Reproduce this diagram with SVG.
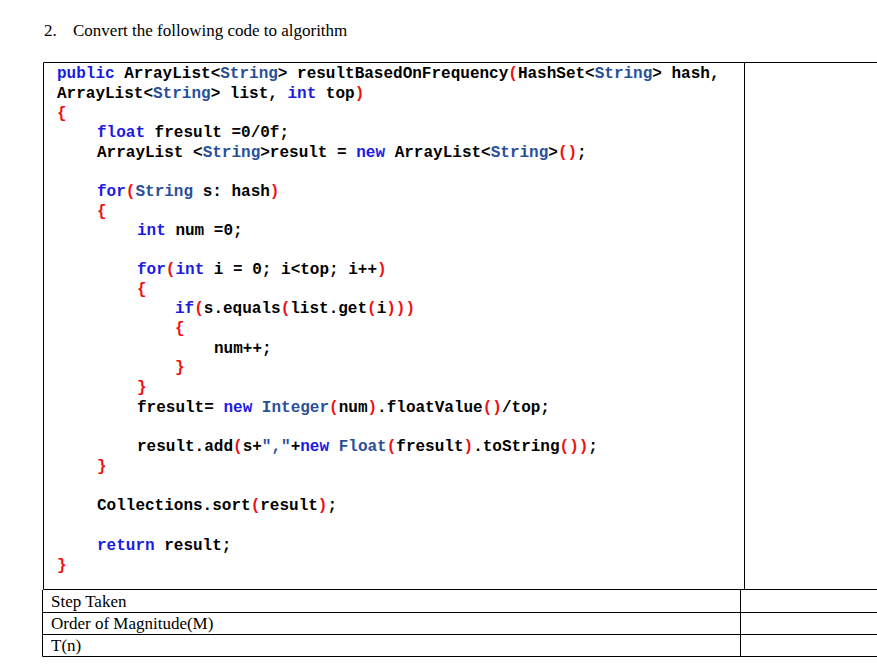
<svg xmlns="http://www.w3.org/2000/svg" width="877" height="671" viewBox="0 0 877 671">
<style>
.c{font-family:"Liberation Mono",monospace;font-size:16px;font-weight:bold;fill:#000;white-space:pre}
.k{fill:#1a1ae6}.t{fill:#2a4f9a}.p{fill:#ee1111}
.s{font-family:"Liberation Serif",serif;font-size:17px;fill:#000}
.l{stroke:#000;stroke-width:1;fill:none}
</style>
<rect width="877" height="671" fill="#fff"/>
<text class="s" x="44" y="36">2.</text>
<text class="s" x="73" y="36">Convert the following code to algorithm</text>
<g id="table">
<path class="l" d="M43.5 62.5H877M43.5 62.5V589.5M744.5 62.5V589.5M43.5 589.5H877M42.5 590V656.5H877M740.5 590V656.5M42.5 612.5H877M42.5 634.5H877"/>
<text class="s" x="51" y="607">Step Taken</text>
<text class="s" x="51" y="629">Order of Magnitude(M)</text>
<text class="s" x="51" y="651">T(n)</text>
</g>
<g id="code" class="c" xml:space="preserve">
<text x="57" y="78"><tspan class="k">public</tspan> ArrayList&lt;<tspan class="t">String</tspan>&gt; resultBasedOnFrequency<tspan class="p">(</tspan>HashSet&lt;<tspan class="t">String</tspan>&gt; hash,</text>
<text x="57" y="98">ArrayList&lt;<tspan class="t">String</tspan>&gt; list, <tspan class="k">int</tspan> top<tspan class="p">)</tspan></text>
<text x="57" y="118" class="p">{</text>
<text x="97" y="137"><tspan class="k">float</tspan> fresult =0/0f;</text>
<text x="97" y="157">ArrayList &lt;<tspan class="t">String</tspan>&gt;result = <tspan class="k">new</tspan> ArrayList&lt;<tspan class="t">String</tspan>&gt;<tspan class="p">()</tspan>;</text>
<text x="97" y="196"><tspan class="k">for</tspan><tspan class="p">(</tspan><tspan class="t">String</tspan> s: hash<tspan class="p">)</tspan></text>
<text x="97" y="216" class="p">{</text>
<text x="137" y="235"><tspan class="k">int</tspan> num =0;</text>
<text x="137" y="274"><tspan class="k">for</tspan><tspan class="p">(</tspan><tspan class="k">int</tspan> i = 0; i&lt;top; i++<tspan class="p">)</tspan></text>
<text x="137" y="294" class="p">{</text>
<text x="175" y="313"><tspan class="k">if</tspan><tspan class="p">(</tspan>s.equals<tspan class="p">(</tspan>list.get<tspan class="p">(</tspan>i<tspan class="p">)))</tspan></text>
<text x="175" y="333" class="p">{</text>
<text x="214" y="353">num++;</text>
<text x="175" y="372" class="p">}</text>
<text x="137" y="392" class="p">}</text>
<text x="137" y="412">fresult= <tspan class="k">new</tspan> <tspan class="t">Integer</tspan><tspan class="p">(</tspan>num<tspan class="p">)</tspan>.floatValue<tspan class="p">()</tspan>/top;</text>
<text x="137" y="451">result.add<tspan class="p">(</tspan>s+<tspan class="t">","</tspan>+<tspan class="k">new</tspan> <tspan class="t">Float</tspan><tspan class="p">(</tspan>fresult<tspan class="p">)</tspan>.toString<tspan class="p">())</tspan>;</text>
<text x="97" y="471" class="p">}</text>
<text x="97" y="510">Collections.sort<tspan class="p">(</tspan>result<tspan class="p">)</tspan>;</text>
<text x="97" y="550"><tspan class="k">return</tspan> result;</text>
<text x="57" y="570" class="p">}</text>
</g>
</svg>
